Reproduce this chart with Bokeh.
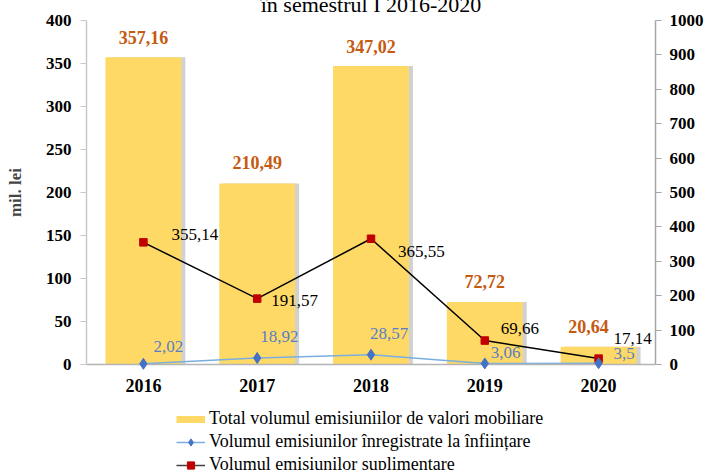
from bokeh.plotting import figure
from bokeh.models import (Range1d, LinearAxis, Legend, LegendItem, ColumnDataSource,
                          FixedTicker, FactorRange)
from bokeh.layouts import column
from bokeh.transform import dodge
from bokeh.core.properties import value
from bokeh.embed import file_html
from bokeh.resources import INLINE

# ---- data ----
years = ["2016", "2017", "2018", "2019", "2020"]
total = [357.16, 210.49, 347.02, 72.72, 20.64]
infiintare = [2.02, 18.92, 28.57, 3.06, 3.5]
suplimentare = [355.14, 191.57, 365.55, 69.66, 17.14]
left_ticks = [0, 50, 100, 150, 200, 250, 300, 350, 400]
right_ticks = [0, 100, 200, 300, 400, 500, 600, 700, 800, 900, 1000]
title_text = "în semestrul I 2016-2020"
legend_labels = ["Total volumul emisiuniilor de valori mobiliare",
                 "Volumul emisiunilor înregistrate la înființare",
                 "Volumul emisiunilor suplimentare"]

def fmt(v):
    return str(v).replace(".", ",")

# ---- styles ----
FONT = "Liberation Serif"
BAR = "#FFD966"
ORANGE = "#C55A11"
BLUE_TXT = "#5A7EC4"
BLUE_LINE = "#7AAEE0"
BLUE_MK = "#4472C4"
RED_MK = "#C00000"

# label offsets (pixels)
tot_dx = [0, 0, 0, 0, -10]
tot_dy = [-20, -21, -20, -20, -20]
sup_dx = [28, 14, 27, 16, 15]
sup_dy = [-8, 2, 13, -12, -20]
inf_dx = [10, 3, -1, 6, 15]
inf_dy = [-17, -21, -21, -11, -10]

src = ColumnDataSource(dict(
    year=years, total=total, inf=infiintare, sup=suplimentare,
    tot_lbl=[fmt(v) for v in total], inf_lbl=[fmt(v) for v in infiintare],
    sup_lbl=[fmt(v) for v in suplimentare],
    tot_dx=tot_dx, tot_dy=tot_dy, sup_dx=sup_dx, sup_dy=sup_dy,
    inf_dx=inf_dx, inf_dy=inf_dy,
))

W = 706
p = figure(width=W, height=400, x_range=FactorRange(factors=years, range_padding=0),
           y_range=Range1d(0, 400), output_backend="svg", toolbar_location=None,
           min_border_left=86, min_border_right=50, min_border_top=20, min_border_bottom=36)
p.extra_y_ranges = {"right": Range1d(0, 1000)}
p.grid.visible = False
p.outline_line_color = None
p.background_fill_color = "white"
p.border_fill_color = "white"

# shadow + bars
p.vbar(x=dodge("year", 0.035, range=p.x_range), top="total", width=0.667, source=src,
       fill_color="#8C8C8C", fill_alpha=0.4, line_color=None)
p.vbar(x="year", top="total", width=0.667, source=src, fill_color=BAR, line_color=None)

# lines on right axis
p.line(x="year", y="sup", source=src, y_range_name="right", line_color="black", line_width=1.5)
p.scatter(x="year", y="sup", source=src, y_range_name="right", marker="square",
          size=7.5, fill_color=RED_MK, line_color=RED_MK, level="overlay")
p.line(x="year", y="inf", source=src, y_range_name="right", line_color=BLUE_LINE, line_width=1.5)
p.scatter(x="year", y="inf", source=src, y_range_name="right", marker="diamond",
          size=11, fill_color=BLUE_MK, line_color=BLUE_MK, level="overlay")

# data labels
p.text(x="year", y="total", text="tot_lbl", source=src, x_offset="tot_dx", y_offset="tot_dy",
       text_align="center", text_baseline="middle", text_color=ORANGE,
       text_font=value(FONT), text_font_size="18px", text_font_style="bold", level="overlay")
p.text(x="year", y="sup", text="sup_lbl", source=src, y_range_name="right",
       x_offset="sup_dx", y_offset="sup_dy", text_align="left", text_baseline="middle",
       text_color="black", text_font=value(FONT), text_font_size="17px", level="overlay")
p.text(x="year", y="inf", text="inf_lbl", source=src, y_range_name="right",
       x_offset="inf_dx", y_offset="inf_dy", text_align="left", text_baseline="middle",
       text_color=BLUE_TXT, text_font=value(FONT), text_font_size="17px", level="overlay")

# title (its top is cut off at the page edge, as in the reference)
p.text(x=[years[len(years) // 2]], y=[left_ticks[-1]], text=[title_text], y_offset=-16,
       text_align="center", text_baseline="alphabetic", text_color="black",
       text_font=value(FONT), text_font_size="22px", level="overlay")

# axes
def style_y(ax, color, size, standoff):
    ax.major_tick_out = 6
    ax.major_tick_in = 0
    ax.minor_tick_line_color = None
    ax.major_tick_line_color = color
    ax.axis_line_color = color
    ax.axis_line_width = 1.5
    ax.major_label_text_font = FONT
    ax.major_label_text_font_style = "bold"
    ax.major_label_text_font_size = size
    ax.major_label_text_color = "black"
    ax.major_label_standoff = standoff

p.yaxis.ticker = FixedTicker(ticks=left_ticks)
style_y(p.yaxis[0], "#C8C8C8", "17px", 9)
p.yaxis.axis_label = "mil. lei"
p.yaxis.axis_label_text_font = FONT
p.yaxis.axis_label_text_font_style = "bold"
p.yaxis.axis_label_text_font_size = "17px"
p.yaxis.axis_label_standoff = 18

rax = LinearAxis(y_range_name="right", ticker=FixedTicker(ticks=right_ticks))
style_y(rax, "#A6A6A6", "17px", 8)
p.add_layout(rax, "right")

p.xaxis.major_tick_line_color = None
p.xaxis.minor_tick_line_color = None
p.xaxis.axis_line_color = "#B4B4B4"
p.xaxis.axis_line_width = 1.5
p.xaxis.major_label_text_font = FONT
p.xaxis.major_label_text_font_style = "bold"
p.xaxis.major_label_text_font_size = "18px"
p.xaxis.major_label_text_color = "black"
p.xaxis.major_label_standoff = 8

# legend strip (separate figure so it is not clipped by the chart frame);
# its swatch renderers use the same data but lie outside its y range, so only
# the legend shows.
lg = figure(width=W, height=70, output_backend="svg", toolbar_location=None,
            x_range=p.x_range, y_range=Range1d(-2, -1),
            x_axis_type=None, y_axis_type=None, min_border=0)
lg.outline_line_color = None
lg.grid.visible = False
sw_bar = lg.line(x="year", y="total", source=src, line_color=BAR, line_width=7)
sw_bl = lg.line(x="year", y="inf", source=src, line_color=BLUE_LINE, line_width=1.5)
sw_bm = lg.scatter(x="year", y="inf", source=src, marker="diamond",
                   fill_color=BLUE_MK, line_color=BLUE_MK)
sw_rl = lg.line(x="year", y="sup", source=src, line_color="#404040", line_width=1.5)
sw_rm = lg.scatter(x="year", y="sup", source=src, marker="square",
                   fill_color=RED_MK, line_color=RED_MK)
legend = Legend(items=[
    LegendItem(label=legend_labels[0], renderers=[sw_bar]),
    LegendItem(label=legend_labels[1], renderers=[sw_bl, sw_bm]),
    LegendItem(label=legend_labels[2], renderers=[sw_rl, sw_rm]),
], location=(90, -5), orientation="vertical", border_line_color=None,
    background_fill_alpha=0, padding=0, margin=0, spacing=2, glyph_width=29,
    glyph_height=18, label_height=18, label_standoff=4, label_text_font=FONT,
    label_text_font_size="18px", label_text_color="black")
lg.add_layout(legend)

layout = column(p, lg, spacing=0)
open("out.html", "w").write(file_html(layout, INLINE))
